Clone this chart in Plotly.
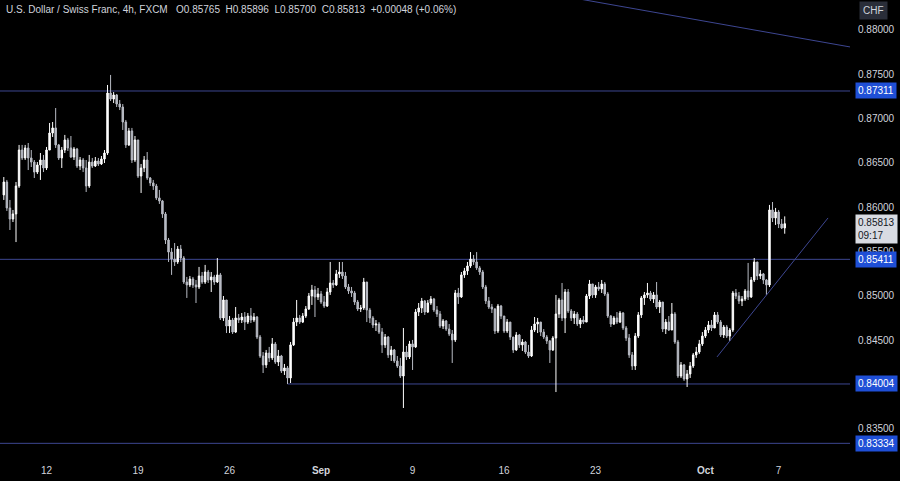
import plotly.graph_objects as go

# ---------------- data (USD/CHF, 4h, FXCM) ----------------
first_open = 0.86138
closes = [
    0.86284, 0.85991, 0.85866, 0.85923, 0.86239, 0.86645, 0.86555, 0.86668, 0.86555, 0.86509,
    0.86396, 0.86476, 0.86532, 0.86442, 0.86645, 0.86837, 0.86894, 0.86702, 0.86555, 0.86645,
    0.86758, 0.86668, 0.86566, 0.86656, 0.86464, 0.86532, 0.86442, 0.86239, 0.86509, 0.86464,
    0.86521, 0.86487, 0.86543, 0.86611, 0.87288, 0.87220, 0.87266, 0.87164, 0.87130, 0.86961,
    0.86702, 0.86860, 0.86532, 0.86758, 0.86351, 0.86442, 0.86532, 0.86329, 0.86273, 0.86239,
    0.86104, 0.86070, 0.85923, 0.85629, 0.85493, 0.85414, 0.85381, 0.85527, 0.85426, 0.85155,
    0.85122, 0.85189, 0.85122, 0.85099, 0.85223, 0.85155, 0.85268, 0.85178, 0.85212, 0.85155,
    0.85235, 0.84749, 0.84952, 0.84658, 0.84726, 0.84590, 0.84749, 0.84726, 0.84760, 0.84703,
    0.84771, 0.84726, 0.84760, 0.84534, 0.84320, 0.84219, 0.84354, 0.84298, 0.84456, 0.84252,
    0.84320, 0.84151, 0.84185, 0.84072, 0.84445, 0.84703, 0.84749, 0.84703, 0.84771, 0.84850,
    0.84997, 0.85065, 0.84986, 0.85020, 0.84929, 0.84884, 0.85042, 0.85144, 0.85122, 0.85246,
    0.85268, 0.85223, 0.85099, 0.85054, 0.85031, 0.84929, 0.84850, 0.84862, 0.85155, 0.84839,
    0.84749, 0.84670, 0.84681, 0.84590, 0.84445, 0.84534, 0.84332, 0.84388, 0.84264, 0.84207,
    0.84094, 0.84365, 0.84309, 0.84456, 0.84422, 0.84816, 0.84862, 0.84941, 0.84816, 0.84918,
    0.84963, 0.84839, 0.84794, 0.84658, 0.84715, 0.84624, 0.84568, 0.84501, 0.85031, 0.84986,
    0.85235, 0.85280, 0.85336, 0.85414, 0.85381, 0.85314, 0.85268, 0.85099, 0.84941, 0.84873,
    0.84850, 0.84602, 0.84884, 0.84771, 0.84602, 0.84703, 0.84534, 0.84388, 0.84557, 0.84445,
    0.84478, 0.84365, 0.84320, 0.84613, 0.84681, 0.84703, 0.84590, 0.84534, 0.84490, 0.84388,
    0.84523, 0.84794, 0.84952, 0.84749, 0.85042, 0.84828, 0.84749, 0.84794, 0.84681, 0.84726,
    0.84703, 0.84997, 0.85133, 0.85009, 0.85099, 0.85076, 0.85133, 0.85020, 0.84771, 0.84681,
    0.84749, 0.84703, 0.84805, 0.84636, 0.84523, 0.84332, 0.84207, 0.84545, 0.84783, 0.84975,
    0.85009, 0.85031, 0.84963, 0.85009, 0.84873, 0.84929, 0.84624, 0.84703, 0.84613, 0.84794,
    0.84478, 0.84094, 0.84219, 0.84060, 0.84117, 0.84207, 0.84332, 0.84365, 0.84456, 0.84545,
    0.84613, 0.84670, 0.84636, 0.84783, 0.84703, 0.84557, 0.84647, 0.84545, 0.84613, 0.85031,
    0.84997, 0.84941, 0.84963, 0.85054, 0.84986, 0.85178, 0.85381, 0.85223, 0.85246, 0.85178,
    0.85122, 0.85968, 0.85878, 0.85945, 0.85810, 0.85765, 0.85813,
]
highs = [
    0.86340, 0.86307, 0.86081, 0.85968, 0.86284, 0.86702, 0.86702, 0.86702, 0.86724, 0.86645,
    0.86532, 0.86509, 0.86611, 0.86589, 0.86679, 0.86950, 0.86961, 0.87119, 0.86713, 0.86679,
    0.86815, 0.86781, 0.86803, 0.86679, 0.86668, 0.86566, 0.86555, 0.86532, 0.86589, 0.86555,
    0.86566, 0.86555, 0.86577, 0.86645, 0.87379, 0.87492, 0.87299, 0.87277, 0.87209, 0.87164,
    0.86984, 0.86894, 0.86894, 0.86803, 0.86758, 0.86487, 0.86577, 0.86622, 0.86340, 0.86307,
    0.86262, 0.86194, 0.86081, 0.85945, 0.85652, 0.85539, 0.85595, 0.85561, 0.85573, 0.85448,
    0.85212, 0.85223, 0.85212, 0.85178, 0.85325, 0.85268, 0.85348, 0.85291, 0.85268, 0.85235,
    0.85426, 0.85257, 0.84997, 0.84952, 0.84771, 0.84749, 0.84873, 0.84794, 0.84805, 0.84816,
    0.84805, 0.84862, 0.84805, 0.84771, 0.84557, 0.84365, 0.84388, 0.84422, 0.84523, 0.84478,
    0.84388, 0.84332, 0.84230, 0.84207, 0.84478, 0.84749, 0.84952, 0.84783, 0.84805, 0.84884,
    0.85031, 0.85122, 0.85110, 0.85088, 0.85054, 0.84997, 0.85088, 0.85381, 0.85178, 0.85291,
    0.85381, 0.85381, 0.85268, 0.85133, 0.85099, 0.85054, 0.84952, 0.84896, 0.85201, 0.85133,
    0.84862, 0.84771, 0.84726, 0.84703, 0.84636, 0.84568, 0.84545, 0.84433, 0.84399, 0.84320,
    0.84298, 0.84636, 0.84433, 0.84490, 0.84501, 0.84850, 0.84918, 0.84975, 0.84952, 0.84952,
    0.84997, 0.84975, 0.84884, 0.84828, 0.84737, 0.84726, 0.84681, 0.84613, 0.85065, 0.85088,
    0.85268, 0.85314, 0.85381, 0.85493, 0.85460, 0.85493, 0.85336, 0.85291, 0.85122, 0.84986,
    0.84907, 0.84862, 0.84907, 0.84896, 0.84771, 0.84737, 0.84703, 0.84534, 0.84590, 0.84568,
    0.84511, 0.84490, 0.84445, 0.84658, 0.84760, 0.84749, 0.84703, 0.84624, 0.84557, 0.84501,
    0.84545, 0.85009, 0.84975, 0.85144, 0.85076, 0.85076, 0.84850, 0.84828, 0.84816, 0.84749,
    0.84771, 0.85020, 0.85178, 0.85133, 0.85122, 0.85155, 0.85178, 0.85155, 0.85042, 0.84783,
    0.84771, 0.84816, 0.84828, 0.84816, 0.84658, 0.84568, 0.84365, 0.84579, 0.84816, 0.84997,
    0.85042, 0.85144, 0.85054, 0.85042, 0.85155, 0.84952, 0.84929, 0.84737, 0.84771, 0.84918,
    0.84816, 0.84501, 0.84252, 0.84230, 0.84162, 0.84252, 0.84354, 0.84422, 0.84501, 0.84590,
    0.84647, 0.84715, 0.84726, 0.84816, 0.84816, 0.84726, 0.84670, 0.84670, 0.84636, 0.85054,
    0.85076, 0.85042, 0.84997, 0.85076, 0.85370, 0.85212, 0.85426, 0.85381, 0.85291, 0.85257,
    0.85189, 0.86025, 0.86058, 0.85991, 0.85968, 0.85866, 0.85896,
]
lows = [
    0.86081, 0.85957, 0.85742, 0.85832, 0.85606, 0.86217, 0.86532, 0.86532, 0.86419, 0.86453,
    0.86329, 0.86374, 0.86307, 0.86396, 0.86419, 0.86645, 0.86792, 0.86668, 0.86532, 0.86442,
    0.86611, 0.86634, 0.86555, 0.86532, 0.86442, 0.86419, 0.86396, 0.86171, 0.86217, 0.86442,
    0.86453, 0.86464, 0.86476, 0.86498, 0.86589, 0.87198, 0.87175, 0.87130, 0.87096, 0.86871,
    0.86668, 0.86690, 0.86498, 0.86509, 0.86329, 0.86160, 0.86396, 0.86307, 0.86239, 0.86194,
    0.86081, 0.86036, 0.85878, 0.85584, 0.85381, 0.85235, 0.85336, 0.85359, 0.85381, 0.85133,
    0.84975, 0.85099, 0.85088, 0.84918, 0.85076, 0.85133, 0.85133, 0.85144, 0.85042, 0.85122,
    0.85144, 0.84726, 0.84715, 0.84579, 0.84579, 0.84568, 0.84579, 0.84692, 0.84692, 0.84613,
    0.84681, 0.84692, 0.84703, 0.84511, 0.84298, 0.84128, 0.84185, 0.84252, 0.84275, 0.84230,
    0.84207, 0.84128, 0.84106, 0.84004, 0.84015, 0.84433, 0.84658, 0.84681, 0.84692, 0.84749,
    0.84839, 0.84896, 0.84760, 0.84952, 0.84907, 0.84862, 0.84873, 0.85009, 0.85088, 0.85110,
    0.85201, 0.85189, 0.85076, 0.85020, 0.84986, 0.84896, 0.84828, 0.84816, 0.84839, 0.84703,
    0.84692, 0.84636, 0.84602, 0.84568, 0.84354, 0.84411, 0.84298, 0.84264, 0.84241, 0.84185,
    0.84072, 0.83733, 0.84275, 0.84286, 0.84162, 0.84411, 0.84771, 0.84805, 0.84783, 0.84805,
    0.84896, 0.84816, 0.84760, 0.84636, 0.84624, 0.84602, 0.84545, 0.84241, 0.84478, 0.84907,
    0.84975, 0.85201, 0.85235, 0.85314, 0.85348, 0.85291, 0.85235, 0.85076, 0.84907, 0.84850,
    0.84805, 0.84568, 0.84579, 0.84737, 0.84579, 0.84579, 0.84501, 0.84354, 0.84377, 0.84411,
    0.84377, 0.84343, 0.84298, 0.84309, 0.84590, 0.84579, 0.84545, 0.84511, 0.84456, 0.84241,
    0.84377, 0.83913, 0.84749, 0.84715, 0.84579, 0.84805, 0.84715, 0.84681, 0.84658, 0.84636,
    0.84681, 0.84703, 0.84963, 0.84975, 0.84975, 0.85054, 0.85031, 0.84997, 0.84749, 0.84647,
    0.84670, 0.84681, 0.84692, 0.84613, 0.84490, 0.84298, 0.84162, 0.84162, 0.84523, 0.84749,
    0.84896, 0.84975, 0.84941, 0.84918, 0.84850, 0.84805, 0.84590, 0.84568, 0.84602, 0.84613,
    0.84456, 0.84072, 0.84072, 0.84038, 0.83970, 0.84072, 0.84185, 0.84298, 0.84343, 0.84433,
    0.84523, 0.84579, 0.84602, 0.84636, 0.84681, 0.84534, 0.84523, 0.84523, 0.84490, 0.84590,
    0.84963, 0.84907, 0.84884, 0.84941, 0.84952, 0.84975, 0.85155, 0.85178, 0.85189, 0.85133,
    0.85009, 0.85099, 0.85832, 0.85799, 0.85764, 0.85753, 0.85700,
]
opens = [first_open] + closes[:-1]
# bar number, counted in 4h bars from Mon 12 Aug 00:00
bar_index = list(range(-14, -14 + len(closes)))

week_ticks = [0, 30, 60, 90, 120, 150, 180, 216, 240]
week_labels = ["12", "19", "26", "<b>Sep</b>", "9", "16", "23", "<b>Oct</b>", "7"]
price_ticks = [0.835, 0.845, 0.850, 0.855, 0.860, 0.865, 0.870, 0.875, 0.880]

level_lines = [0.87311, 0.85411, 0.83334]
support_level = 0.84004
support_start_bar = 79
trend_down_bars = [150, 270]
trend_down_prices = [0.88500, 0.87768]
trend_up_bars = [219.8, 256.2]
trend_up_prices = [0.84309, 0.85878]

header = ("U.S. Dollar / Swiss Franc, 4h, FXCM\u00a0\u00a0 O0.85765\u00a0 H0.85896\u00a0 "
          "L0.85700\u00a0 C0.85813\u00a0 +0.00048 (+0.06%)")
last_price = 0.85813
countdown = "09:17"

# ---------------- styling ----------------
FONT = "Liberation Sans, Arial, sans-serif"
TXT = "#d1d4dc"
LINE = "#3d4691"
BLUE = "#1f4fd6"

fig = go.Figure()
fig.add_trace(go.Candlestick(
    x=bar_index, open=opens, high=highs, low=lows, close=closes,
    increasing=dict(line=dict(color="#ffffff", width=1), fillcolor="#ffffff"),
    decreasing=dict(line=dict(color="#b8bbc4", width=1), fillcolor="#b8bbc4"),
    whiskerwidth=0, showlegend=False, hoverinfo="skip",
))

shapes = []
for lv in level_lines:
    shapes.append(dict(type="line", xref="paper", yref="y", x0=0, x1=1, y0=lv, y1=lv,
                       line=dict(color=LINE, width=1), layer="below"))
shapes.append(dict(type="line", xref="x", yref="y", x0=support_start_bar, x1=400,
                   y0=support_level, y1=support_level, line=dict(color=LINE, width=1), layer="below"))
shapes.append(dict(type="line", xref="x", yref="y", x0=trend_down_bars[0], x1=trend_down_bars[1],
                   y0=trend_down_prices[0], y1=trend_down_prices[1], line=dict(color=LINE, width=1)))
shapes.append(dict(type="line", xref="x", yref="y", x0=trend_up_bars[0], x1=trend_up_bars[1],
                   y0=trend_up_prices[0], y1=trend_up_prices[1], line=dict(color=LINE, width=1)))

annotations = [
    dict(text=header, xref="paper", yref="paper", x=0, y=1, xanchor="left", yanchor="top",
         xshift=4, yshift=-2, showarrow=False, font=dict(family=FONT, size=10, color=TXT)),
    dict(text="CHF", xref="paper", yref="paper", x=1, y=1, xanchor="left", yanchor="top",
         xshift=9, yshift=-1, showarrow=False, bgcolor="#2a2e39", borderpad=3,
         font=dict(family=FONT, size=10, color=TXT)),
]
for lv in level_lines + [support_level]:
    annotations.append(dict(text=f"{lv:.5f}", xref="paper", yref="y", x=1, y=lv,
                            xanchor="left", yanchor="middle", xshift=5, showarrow=False,
                            bgcolor=BLUE, borderpad=2,
                            font=dict(family=FONT, size=10, color="#ffffff")))
annotations.append(dict(text=f"{last_price:.5f}<br>{countdown}", xref="paper", yref="y", x=1,
                        y=last_price, xanchor="left", yanchor="middle", xshift=5, yshift=-5,
                        showarrow=False, align="left", bgcolor="#d8dbe2", borderpad=2,
                        font=dict(family=FONT, size=10, color="#131722")))

fig.update_layout(
    width=900, height=481,
    margin=dict(l=0, r=50, t=0, b=28),
    paper_bgcolor="#000000", plot_bgcolor="#000000",
    shapes=shapes, annotations=annotations,
    xaxis=dict(range=[-15.25, 263.4], showgrid=False, zeroline=False, showline=False,
               tickvals=week_ticks, ticktext=week_labels, ticks="outside", ticklen=8,
               tickcolor="rgba(0,0,0,0)", tickfont=dict(family=FONT, size=10, color=TXT),
               rangeslider=dict(visible=False), fixedrange=True),
    yaxis=dict(side="right", range=[0.83225, 0.88338], showgrid=False, zeroline=False,
               showline=False, tickvals=price_ticks, tickformat=".5f", ticks="outside",
               ticklen=5, tickcolor="rgba(0,0,0,0)",
               tickfont=dict(family=FONT, size=10, color=TXT), fixedrange=True),
)

fig.write_html("out.html",
               config={"displayModeBar": False},
               post_script="document.body.style.margin='0px';"
                           "document.body.style.background='#000000';"
                           "document.documentElement.style.background='#000000';")
